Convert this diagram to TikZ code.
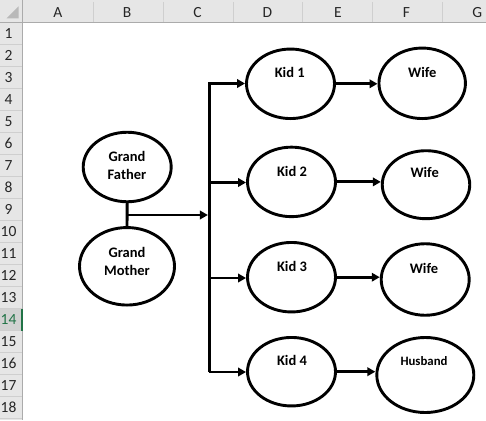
\documentclass[tikz,border=0pt]{standalone}
\usepackage{fontspec}
\setmainfont{Carlito}
\usetikzlibrary{shapes.geometric,arrows.meta}
\definecolor{hdrbg}{HTML}{E6E6E6}
\definecolor{hdrline}{HTML}{CFCFCF}
\definecolor{hdrborder}{HTML}{ABABAB}
\definecolor{selbg}{HTML}{D2D2D2}
\definecolor{selgreen}{HTML}{217346}
\definecolor{hdrtext}{HTML}{262626}
\definecolor{cornertri}{HTML}{B9B9B9}
\begin{document}
\begin{tikzpicture}[x=1pt,y=-1pt,
  oval/.style={ellipse,draw,line width=2.9pt,inner sep=0pt},
  lbl/.style={font=\fontsize{14.5}{18}\selectfont\bfseries,align=center,inner sep=0pt},
  smalllbl/.style={font=\fontsize{12.8}{16}\selectfont\bfseries,align=center,inner sep=0pt},
  conn/.style={line width=2.9pt,line join=miter},
  arr/.style={conn,-{Triangle[length=8pt,width=8.5pt]}},
  hdr/.style={font=\fontsize{15.5}{17}\selectfont,text=hdrtext,inner sep=0pt}]

\useasboundingbox (0,0) rectangle (486,420);
\fill[white] (0,0) rectangle (486,420);

% ---- spreadsheet headers ----
\fill[hdrbg] (0,0) rectangle (486,22.7);
\fill[hdrbg] (0,0) rectangle (22.7,420);
\fill[selbg] (0,308.7) rectangle (22.7,330.7);
\fill[cornertri] (18.5,6.5) -- (18.5,18.5) -- (6.5,18.5) -- cycle;
\foreach \x in {93,163,233,302.5,372.5,442.7}
  \draw[hdrline,line width=0.8pt] (\x,2) -- (\x,22.7);
\foreach \i in {1,...,18}
  \draw[hdrline,line width=0.8pt] (0,{22.7+22*\i}) -- (22.7,{22.7+22*\i});
\draw[hdrborder,line width=1pt] (0,22.7) -- (486,22.7);
\draw[hdrborder,line width=1pt] (22.7,0) -- (22.7,420);
\fill[selgreen] (20.7,308.7) rectangle (23,330.7);

\foreach \c/\x in {A/57.8,B/127,C/197.5,D/267.5,E/338,F/406.5,G/477.3}
  \node[hdr] (col\c) at (\x,12.5) {\c};
\foreach \i in {1,...,13,15,16,17,18}
  \node[hdr] (row\i) at (8.5,{33.7+22*(\i-1)}) {\i};
\node[hdr,text=selgreen] (row14) at (8.5,319.7) {14};

% ---- family tree ----
\node[oval,minimum width=88pt,minimum height=69.5pt] (gf) at (127.2,167) {};
\node[oval,minimum width=95pt,minimum height=77.5pt] (gm) at (127,266.3) {};
\node[oval,minimum width=88pt,minimum height=69.5pt] (k1) at (290.5,83.8) {};
\node[oval,minimum width=88pt,minimum height=69.5pt] (k2) at (291.5,181.9) {};
\node[oval,minimum width=88pt,minimum height=69.5pt] (k3) at (291.5,277.2) {};
\node[oval,minimum width=88pt,minimum height=68.5pt] (k4) at (291.5,371.7) {};
\node[oval,minimum width=86.5pt,minimum height=70.5pt] (w1) at (422.2,83.3) {};
\node[oval,minimum width=87.5pt,minimum height=68pt] (w2) at (426,184.7) {};
\node[oval,minimum width=88pt,minimum height=71.5pt] (w3) at (425.2,279.5) {};
\node[oval,minimum width=97pt,minimum height=75pt] (hb) at (425.3,375) {};

\node[lbl] (tgf) at (127,165) {Grand\\Father};
\node[lbl] (tgm) at (127,261.3) {Grand\\Mother};
\node[lbl] (tk1) at (289.7,72.7) {Kid 1};
\node[lbl] (tk2) at (292,171.7) {Kid 2};
\node[lbl] (tk3) at (292,266.7) {Kid 3};
\node[lbl] (tk4) at (292,360.7) {Kid 4};
\node[lbl] (tw1) at (422.3,72) {Wife};
\node[lbl] (tw2) at (424.7,172.3) {Wife};
\node[lbl] (tw3) at (424,268.3) {Wife};
\node[smalllbl] (thb) at (424,360.7) {Husband};

\coordinate (j) at (127,215);
\coordinate (b1) at (209.3,83.5);
\coordinate (b2) at (209.3,182.5);
\coordinate (b3) at (209.3,278);
\coordinate (b4) at (209.3,372);
\coordinate (bj) at (209.3,215);

\draw[conn] (gf.south) -- (gm.north);
\draw[arr] (j) -- ([xshift=-1.4pt]bj);
\draw[arr] (b4) -- (b1) -- (b1 -| k1.west);
\draw[arr] (b2) -- (b2 -| k2.west);
\draw[arr] (b3) -- (b3 -| k3.west);
\draw[arr] (b4) -- (b4 -| k4.west);

\draw[arr] (k1.east) -- (k1.east -| w1.west);
\draw[arr] (k2.east) -- (k2.east -| w2.west);
\draw[arr] (k3.east) -- (k3.east -| w3.west);
\draw[arr] (k4.east) -- (k4.east -| hb.west);
\end{tikzpicture}
\end{document}
